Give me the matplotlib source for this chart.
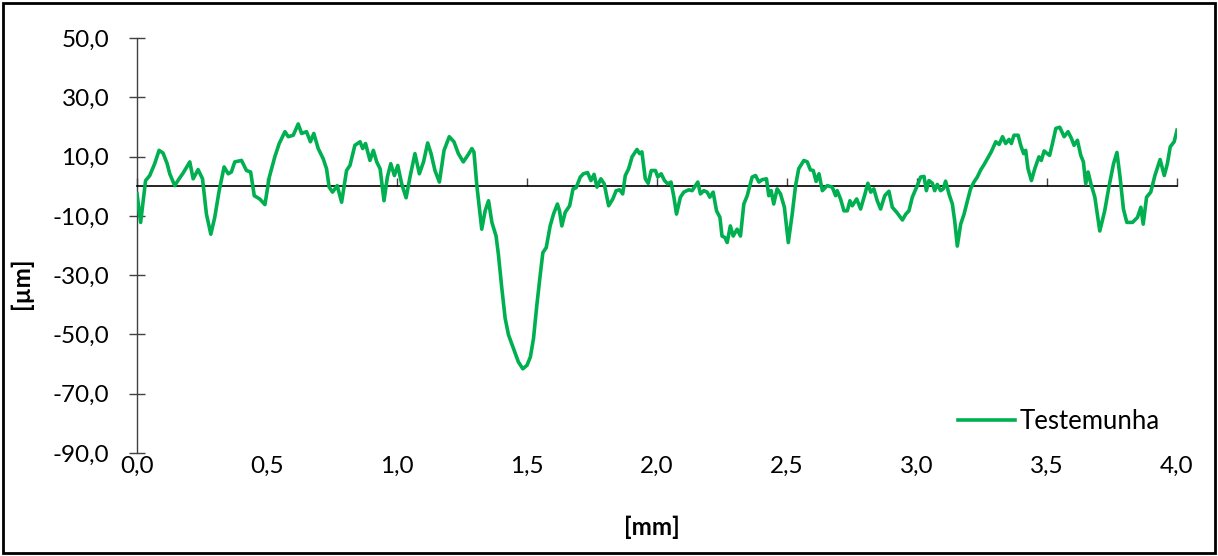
"""
Perfil de rugosidade — amostra Testemunha.

Saída:
  out.png (1218x556)
"""
import matplotlib
matplotlib.use("Agg")
import matplotlib.pyplot as plt
from matplotlib.patches import Rectangle
from matplotlib.ticker import MultipleLocator, FuncFormatter

plt.rcParams["font.family"] = ["Lato", "DejaVu Sans"]

GREEN = "#00B050"

# posição ao longo do perfil [mm]
pos_mm = [
    0.000, 0.014, 0.033, 0.049, 0.068, 0.085, 0.100, 0.116, 0.126, 0.145,
    0.162, 0.177, 0.203, 0.216, 0.235, 0.252, 0.267, 0.284, 0.299, 0.316,
    0.335, 0.351, 0.363, 0.376, 0.402, 0.421, 0.437, 0.451, 0.472, 0.492,
    0.509, 0.530, 0.547, 0.569, 0.582, 0.601, 0.620, 0.633, 0.652, 0.667,
    0.680, 0.697, 0.716, 0.729, 0.739, 0.752, 0.770, 0.787, 0.806, 0.819,
    0.838, 0.858, 0.868, 0.879, 0.896, 0.909, 0.922, 0.935, 0.950, 0.963,
    0.976, 0.990, 1.003, 1.018, 1.035, 1.050, 1.069, 1.086, 1.102, 1.118,
    1.131, 1.146, 1.163, 1.181, 1.201, 1.219, 1.236, 1.255, 1.272, 1.288,
    1.296, 1.307, 1.326, 1.339, 1.352, 1.365, 1.381, 1.390, 1.403, 1.416,
    1.429, 1.448, 1.467, 1.484, 1.500, 1.513, 1.525, 1.538, 1.551, 1.561,
    1.574, 1.589, 1.602, 1.617, 1.625, 1.634, 1.647, 1.664, 1.677, 1.689,
    1.705, 1.717, 1.733, 1.746, 1.758, 1.769, 1.784, 1.797, 1.814, 1.830,
    1.843, 1.856, 1.868, 1.878, 1.891, 1.904, 1.923, 1.933, 1.942, 1.955,
    1.966, 1.978, 1.994, 2.003, 2.016, 2.029, 2.041, 2.054, 2.065, 2.075,
    2.090, 2.103, 2.122, 2.135, 2.148, 2.157, 2.167, 2.180, 2.193, 2.203,
    2.216, 2.229, 2.242, 2.250, 2.261, 2.270, 2.282, 2.293, 2.308, 2.321,
    2.334, 2.347, 2.366, 2.379, 2.392, 2.404, 2.421, 2.430, 2.439, 2.449,
    2.462, 2.475, 2.490, 2.505, 2.520, 2.533, 2.545, 2.565, 2.578, 2.590,
    2.601, 2.612, 2.623, 2.636, 2.655, 2.674, 2.687, 2.693, 2.706, 2.719,
    2.732, 2.742, 2.751, 2.768, 2.783, 2.798, 2.811, 2.822, 2.834, 2.847,
    2.860, 2.876, 2.892, 2.905, 2.922, 2.935, 2.944, 2.957, 2.969, 2.982,
    3.001, 3.014, 3.027, 3.036, 3.046, 3.059, 3.068, 3.078, 3.091, 3.101,
    3.110, 3.123, 3.136, 3.145, 3.155, 3.168, 3.181, 3.194, 3.206, 3.219,
    3.232, 3.245, 3.258, 3.271, 3.285, 3.303, 3.316, 3.329, 3.341, 3.354,
    3.363, 3.373, 3.389, 3.399, 3.410, 3.418, 3.427, 3.440, 3.453, 3.469,
    3.478, 3.489, 3.501, 3.510, 3.521, 3.534, 3.549, 3.566, 3.581, 3.594,
    3.604, 3.617, 3.630, 3.640, 3.649, 3.658, 3.669, 3.684, 3.703, 3.722,
    3.739, 3.756, 3.769, 3.781, 3.794, 3.807, 3.829, 3.848, 3.861, 3.870,
    3.883, 3.899, 3.915, 3.935, 3.951, 3.963, 3.974, 3.989, 4.000,
]

# altura do perfil [µm]
alt_um = [
    -2.5, -12.2, 1.9, 3.6, 7.6, 12.1, 11.2, 7.6, 4.2, 0.2,
    2.5, 4.4, 8.2, 2.5, 5.6, 2.5, -9.4, -16.2, -10.5, -1.5,
    6.5, 4.2, 4.8, 8.2, 8.7, 5.3, 4.8, -3.2, -4.3, -6.2,
    3.1, 9.9, 14.4, 18.4, 16.7, 17.2, 21.0, 17.8, 18.4, 15.0,
    17.8, 12.7, 9.3, 5.9, -0.3, -2.0, 0.2, -5.4, 5.3, 7.0,
    13.8, 15.0, 12.7, 14.4, 8.7, 12.1, 8.2, 5.9, -4.9, 3.1,
    7.6, 3.6, 7.0, 0.8, -3.9, 3.1, 11.0, 4.2, 8.2, 14.6,
    11.0, 5.3, 1.4, 12.1, 16.7, 15.0, 11.0, 8.2, 10.4, 12.7,
    11.5, 0.3, -14.5, -8.3, -4.9, -12.2, -16.8, -23.0, -34.3, -44.6,
    -50.2, -54.8, -59.3, -61.6, -60.4, -57.6, -51.4, -40.0, -29.8, -22.4,
    -20.7, -13.4, -9.4, -6.0, -8.3, -13.4, -8.8, -6.6, -0.9, -0.5,
    3.1, 4.2, 4.6, 1.9, 4.0, -0.3, 2.5, 0.8, -6.6, -4.3,
    -1.5, -1.2, -2.6, 3.6, 5.9, 9.9, 12.4, 11.0, 11.6, 2.5,
    1.0, 5.3, 5.3, 3.1, 4.2, 1.9, 0.8, 1.4, -3.7, -9.4,
    -3.7, -2.0, -1.2, -1.5, 0.2, 1.4, -2.6, -1.5, -2.0, -3.7,
    -2.0, -8.3, -10.5, -16.8, -17.3, -19.0, -13.4, -16.8, -14.5, -16.8,
    -6.0, -3.2, 3.1, 3.6, 1.4, 2.2, 2.5, -3.2, -1.5, -6.0,
    -0.9, -2.6, -7.1, -19.0, -9.4, 0.2, 5.9, 8.7, 8.2, 5.5,
    5.3, 1.6, 4.2, -1.5, 0.2, -0.3, -3.2, -1.5, -4.3, -8.3,
    -8.3, -4.9, -6.6, -4.3, -7.7, -3.2, 1.0, -2.0, -0.9, -4.9,
    -7.7, -3.2, -1.7, -7.1, -8.8, -10.3, -11.4, -9.4, -8.3, -3.7,
    0.2, 3.1, 3.3, -1.5, 1.9, 1.0, -1.5, 0.6, -1.5, -0.9,
    1.7, -2.6, -6.0, -11.7, -20.2, -12.8, -9.4, -4.9, -0.9, 1.4,
    3.1, 5.5, 7.3, 9.3, 11.5, 15.0, 14.1, 16.7, 14.4, 15.8,
    14.4, 17.2, 17.2, 13.8, 11.0, 12.1, 5.9, 1.9, 5.9, 9.9,
    8.7, 11.9, 11.0, 10.4, 14.4, 19.5, 19.9, 16.7, 18.4, 16.1,
    13.8, 15.5, 10.4, 8.2, 0.8, 4.8, 0.8, -3.7, -15.1, -8.3,
    0.2, 7.6, 11.4, 3.1, -7.7, -12.2, -12.2, -10.5, -7.1, -12.8,
    -3.7, -2.0, 3.6, 9.0, 3.6, 7.6, 13.3, 15.0, 18.9,
]

X_LIM = (0.0, 4.0)
Y_LIM = (-90.0, 50.0)
Y_TICKS = [-90, -70, -50, -30, -10, 10, 30, 50]
SERIES_NAME = "Testemunha"


def comma_fmt(val, _pos):
    return f"{val:.1f}".replace(".", ",")


def main():
    fig = plt.figure(figsize=(12.18, 5.56), dpi=100)
    ax = fig.add_axes([137 / 1218, 1 - 453 / 556, 1040 / 1218, 415 / 556])

    ax.plot(pos_mm, alt_um, color=GREEN, lw=2.6, label=SERIES_NAME,
            solid_joinstyle="round", zorder=3)

    ax.set_xlim(*X_LIM)
    ax.set_ylim(*Y_LIM)
    ax.xaxis.set_major_locator(MultipleLocator(0.5))
    ax.set_yticks(Y_TICKS)
    ax.xaxis.set_major_formatter(FuncFormatter(comma_fmt))
    ax.yaxis.set_major_formatter(FuncFormatter(comma_fmt))

    # eixo x desenhado em y = 0 (estilo Excel), rótulos embaixo
    ax.spines["right"].set_visible(False)
    ax.spines["bottom"].set_visible(False)
    ax.spines["top"].set_position(("data", 0))
    ax.spines["top"].set_color("black")
    ax.spines["top"].set_linewidth(1.2)
    ax.spines["left"].set_color("#404040")
    ax.spines["left"].set_linewidth(1.0)

    ax.tick_params(axis="x", bottom=False, top=True, labelbottom=True,
                   labeltop=False, direction="out", length=6, width=1,
                   color="#404040", labelsize=17.5, pad=-4)
    ax.tick_params(axis="y", direction="inout", length=12, width=1,
                   color="#404040", labelsize=17.5, pad=14)

    ax.set_xlabel("[mm]", fontsize=17.5, fontweight="bold")
    ax.set_ylabel("[µm]", fontsize=17.5, fontweight="bold")
    ax.xaxis.set_label_coords(0.495, -0.150)
    ax.yaxis.set_label_coords(-0.100, 0.41)

    ax.legend(loc="center right", bbox_to_anchor=(0.983, 0.077),
              frameon=False, fontsize=18.5, handlelength=2.2,
              handletextpad=0.17, borderpad=0, borderaxespad=0)

    # moldura do gráfico
    fig.patches.append(Rectangle((3 / 1218, 3 / 556), 1212 / 1218, 550 / 556,
                                 transform=fig.transFigure, fill=False,
                                 edgecolor="black", linewidth=2))

    fig.savefig("out.png", dpi=100)


if __name__ == "__main__":
    main()
